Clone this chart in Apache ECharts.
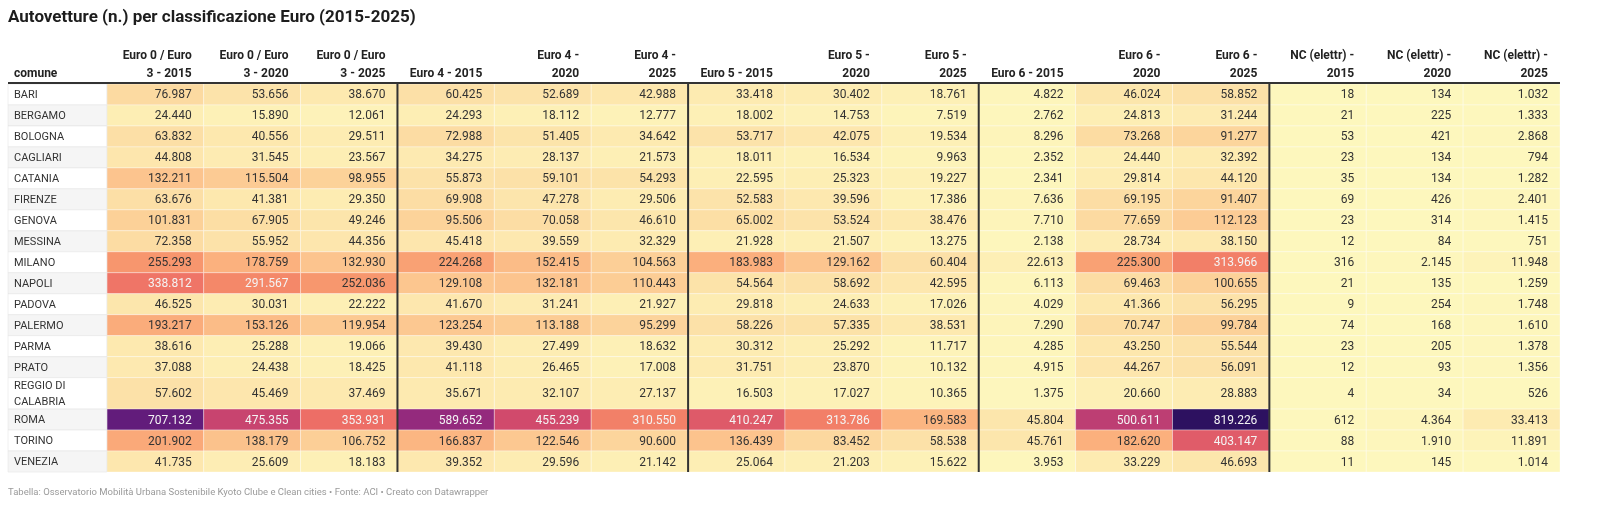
<!DOCTYPE html>
<html>
<head>
<meta charset="utf-8">
<title>Autovetture per classificazione Euro</title>
<script src="https://cdn.jsdelivr.net/npm/echarts@6/dist/echarts.min.js"></script>
<style>
  html, body { margin: 0; padding: 0; background: #fff; }
  #chart { width: 1600px; height: 516px; }
</style>
</head>
<body>
<div id="chart"></div>
<script>
// comuni (righe)
const cities = ['BARI', 'BERGAMO', 'BOLOGNA', 'CAGLIARI', 'CATANIA', 'FIRENZE', 'GENOVA', 'MESSINA', 'MILANO',
    'NAPOLI', 'PADOVA', 'PALERMO', 'PARMA', 'PRATO', 'REGGIO DI CALABRIA', 'ROMA', 'TORINO', 'VENEZIA'];

// intestazioni delle colonne
const headers = ['Euro 0 / Euro\n3 - 2015', 'Euro 0 / Euro\n3 - 2020', 'Euro 0 / Euro\n3 - 2025',
    'Euro 4 - 2015', 'Euro 4 -\n2020', 'Euro 4 -\n2025',
    'Euro 5 - 2015', 'Euro 5 -\n2020', 'Euro 5 -\n2025',
    'Euro 6 - 2015', 'Euro 6 -\n2020', 'Euro 6 -\n2025',
    'NC (elettr) -\n2015', 'NC (elettr) -\n2020', 'NC (elettr) -\n2025'];

// valori per colonna (stesso ordine dei comuni)
const euro03_2015 = [76987, 24440, 63832, 44808, 132211, 63676, 101831, 72358, 255293, 338812, 46525, 193217, 38616, 37088, 57602, 707132, 201902, 41735];
const euro03_2020 = [53656, 15890, 40556, 31545, 115504, 41381, 67905, 55952, 178759, 291567, 30031, 153126, 25288, 24438, 45469, 475355, 138179, 25609];
const euro03_2025 = [38670, 12061, 29511, 23567, 98955, 29350, 49246, 44356, 132930, 252036, 22222, 119954, 19066, 18425, 37469, 353931, 106752, 18183];
const euro4_2015 = [60425, 24293, 72988, 34275, 55873, 69908, 95506, 45418, 224268, 129108, 41670, 123254, 39430, 41118, 35671, 589652, 166837, 39352];
const euro4_2020 = [52689, 18112, 51405, 28137, 59101, 47278, 70058, 39559, 152415, 132181, 31241, 113188, 27499, 26465, 32107, 455239, 122546, 29596];
const euro4_2025 = [42988, 12777, 34642, 21573, 54293, 29506, 46610, 32329, 104563, 110443, 21927, 95299, 18632, 17008, 27137, 310550, 90600, 21142];
const euro5_2015 = [33418, 18002, 53717, 18011, 22595, 52583, 65002, 21928, 183983, 54564, 29818, 58226, 30312, 31751, 16503, 410247, 136439, 25064];
const euro5_2020 = [30402, 14753, 42075, 16534, 25323, 39596, 53524, 21507, 129162, 58692, 24633, 57335, 25292, 23870, 17027, 313786, 83452, 21203];
const euro5_2025 = [18761, 7519, 19534, 9963, 19227, 17386, 38476, 13275, 60404, 42595, 17026, 38531, 11717, 10132, 10365, 169583, 58538, 15622];
const euro6_2015 = [4822, 2762, 8296, 2352, 2341, 7636, 7710, 2138, 22613, 6113, 4029, 7290, 4285, 4915, 1375, 45804, 45761, 3953];
const euro6_2020 = [46024, 24813, 73268, 24440, 29814, 69195, 77659, 28734, 225300, 69463, 41366, 70747, 43250, 44267, 20660, 500611, 182620, 33229];
const euro6_2025 = [58852, 31244, 91277, 32392, 44120, 91407, 112123, 38150, 313966, 100655, 56295, 99784, 55544, 56091, 28883, 819226, 403147, 46693];
const nc_2015 = [18, 21, 53, 23, 35, 69, 23, 12, 316, 21, 9, 74, 23, 12, 4, 612, 88, 11];
const nc_2020 = [134, 225, 421, 134, 134, 426, 314, 84, 2145, 135, 254, 168, 205, 93, 34, 4364, 1910, 145];
const nc_2025 = [1032, 1333, 2868, 794, 1282, 2401, 1415, 751, 11948, 1259, 1748, 1610, 1378, 1356, 526, 33413, 11891, 1014];

const columns = [euro03_2015, euro03_2020, euro03_2025, euro4_2015, euro4_2020, euro4_2025,
    euro5_2015, euro5_2020, euro5_2025, euro6_2015, euro6_2020, euro6_2025, nc_2015, nc_2020, nc_2025];

const colGroupSize = 3;
const nameColWidth = 1.02;   // larghezza colonna "comune" in unità di colonna
const palette = ['#fdf7bd', '#fcd59c', '#fbb07d', '#f6906a', '#ec6a66', '#d14a6c', '#a9317a', '#7e2380', '#5a1a7a', '#2d1160'];

// formattazione italiana: 76987 -> 76.987
function fmt(v) {
    return String(v).replace(/\B(?=(\d{3})+(?!\d))/g, '.');
}

// righe: "REGGIO DI CALABRIA" va a capo, quindi riga più alta
const rowTop = [];
let acc = 0;
cities.forEach(function (c) {
    rowTop.push(acc);
    acc += c.length > 12 ? 1.5 : 1;
});
const totalRows = acc;

const cellData = [];
columns.forEach(function (col, ci) {
    col.forEach(function (v, ri) {
        const bottom = ri + 1 < cities.length ? rowTop[ri + 1] : totalRows;
        cellData.push([ci, rowTop[ri], bottom, v]);
    });
});

const nameData = cities.map(function (c, ri) {
    const bottom = ri + 1 < cities.length ? rowTop[ri + 1] : totalRows;
    return [ri, rowTop[ri], bottom];
});

const maxValue = Math.max.apply(null, columns.map(function (c) { return Math.max.apply(null, c); }));

const options = {
    animation: false,
    backgroundColor: '#fff',
    textStyle: { fontFamily: 'Roboto' },
    grid: { left: 8, right: 40, top: 84, bottom: 44 },
    xAxis: { type: 'value', min: -nameColWidth, max: columns.length, show: false },
    yAxis: { type: 'value', min: 0, max: totalRows, inverse: true, show: false },
    visualMap: {
        show: false,
        type: 'continuous',
        seriesIndex: 0,
        dimension: 3,
        min: 0,
        max: maxValue,
        inRange: { color: palette }
    },
    graphic: [
        {
            type: 'text', left: 8, top: 9,
            style: { text: 'Autovetture (n.) per classificazione Euro (2015-2025)', font: 'bold 17px Roboto', fill: '#1d1d1d' }
        },
        {
            type: 'text', left: 8, top: 488,
            style: {
                text: 'Tabella: Osservatorio Mobilità Urbana Sostenibile Kyoto Clube e Clean cities • Fonte: ACI • Creato con Datawrapper',
                font: '9.5px Roboto', fill: '#9a9a9a'
            }
        }
    ],
    series: [
        {
            // celle
            type: 'custom',
            coordinateSystem: 'cartesian2d',
            encode: { x: 0, y: [1, 2] },
            data: cellData,
            renderItem: function (params, api) {
                const ci = api.value(0);
                const v = api.value(3);
                const p0 = api.coord([ci, api.value(1)]);
                const p1 = api.coord([ci + 1, api.value(2)]);
                return {
                    type: 'group',
                    children: [
                        {
                            type: 'rect',
                            shape: { x: p0[0], y: p0[1], width: p1[0] - p0[0], height: p1[1] - p0[1] },
                            style: { fill: api.visual('color'), stroke: 'rgba(255,255,255,0.35)', lineWidth: 1 }
                        },
                        {
                            type: 'text',
                            style: {
                                x: p1[0] - 12, y: (p0[1] + p1[1]) / 2 + 1,
                                text: fmt(v), align: 'right', verticalAlign: 'middle',
                                font: '12px Roboto', fill: v > 270000 ? '#f4f4f4' : '#333'
                            }
                        }
                    ]
                };
            }
        },
        {
            // colonna dei comuni
            type: 'custom',
            coordinateSystem: 'cartesian2d',
            data: nameData,
            renderItem: function (params, api) {
                const ri = api.value(0);
                const p0 = api.coord([-nameColWidth, api.value(1)]);
                const p1 = api.coord([0, api.value(2)]);
                const name = cities[ri].length > 12 ? cities[ri].replace('DI ', 'DI\n') : cities[ri];
                return {
                    type: 'group',
                    children: [
                        {
                            type: 'rect',
                            shape: { x: p0[0], y: p0[1], width: p1[0] - p0[0], height: p1[1] - p0[1] },
                            style: { fill: ri % 2 ? '#f5f5f5' : '#fff', stroke: 'rgba(230,230,230,0.6)', lineWidth: 1 }
                        },
                        {
                            type: 'text',
                            style: {
                                x: p0[0] + 6, y: (p0[1] + p1[1]) / 2 + 1,
                                text: name, align: 'left', verticalAlign: 'middle',
                                font: '11px Roboto', fill: '#333', lineHeight: 16
                            }
                        }
                    ]
                };
            }
        },
        {
            // intestazioni
            type: 'custom',
            coordinateSystem: 'cartesian2d',
            data: headers.map(function (h, i) { return [i]; }),
            renderItem: function (params, api) {
                const ci = api.value(0);
                const p = api.coord([ci + 1, 0]);
                const children = [{
                    type: 'text',
                    style: {
                        x: p[0] - 12, y: p[1] - 1, text: headers[ci], align: 'right', verticalAlign: 'bottom',
                        font: 'bold 12px Roboto', fill: '#222', lineHeight: 18
                    }
                }];
                if (ci === 0) {
                    const a = api.coord([-nameColWidth, 0]);
                    const b = api.coord([columns.length, 0]);
                    children.push({
                        type: 'text',
                        style: { x: a[0] + 6, y: a[1] - 1, text: 'comune', align: 'left', verticalAlign: 'bottom', font: 'bold 12px Roboto', fill: '#222', lineHeight: 18 }
                    });
                    children.push({
                        type: 'line',
                        shape: { x1: a[0], y1: a[1] - 1, x2: b[0], y2: b[1] - 1 },
                        style: { stroke: '#333', lineWidth: 2 }
                    });
                }
                if ((ci + 1) % colGroupSize === 0 && ci + 1 < columns.length) {
                    const t = api.coord([ci + 1, 0]);
                    const btm = api.coord([ci + 1, totalRows]);
                    children.push({
                        type: 'line',
                        shape: { x1: t[0], y1: t[1], x2: btm[0], y2: btm[1] },
                        style: { stroke: '#333', lineWidth: 2 }
                    });
                }
                return { type: 'group', children: children };
            }
        }
    ]
};

const E = echarts.init(document.getElementById('chart'));
window.onresize = function () {
    E.resize();
};
E.setOption(options);
</script>
</body>
</html>
